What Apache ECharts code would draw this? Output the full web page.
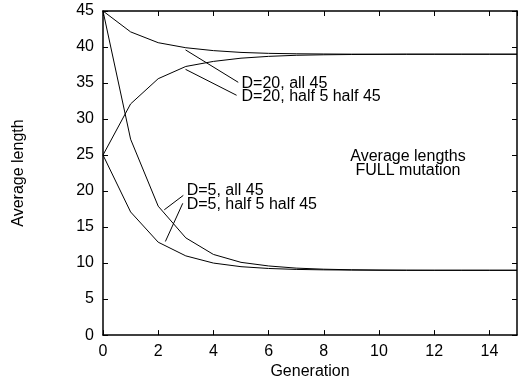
<!DOCTYPE html>
<html>
<head>
<meta charset="utf-8">
<script src="https://cdn.jsdelivr.net/npm/echarts@6/dist/echarts.min.js"></script>
</head>
<body style="margin:0">
<div id="main" style="width:524px;height:385px;"></div>
<script type="text/javascript">
    // generations 0..15
    var generations = [0,1,2,3,4,5,6,7,8,9,10,11,12,13,14,15];
    // D=20, all 45
    var d20all45 = [45,42.1,40.6,39.9,39.5,39.25,39.12,39.06,39.03,39.01,39,39,39,39,39,39];
    // D=20, half 5 half 45
    var d20half = [25,32.1,35.6,37.3,38.0,38.45,38.7,38.85,38.92,38.96,38.98,39,39,39,39,39];
    // D=5, all 45
    var d5all45 = [45,27.2,17.9,13.5,11.2,10.1,9.6,9.3,9.15,9.07,9.03,9.01,9,9,9,9];
    // D=5, half 5 half 45
    var d5half = [25,17.1,12.9,11.0,10.0,9.5,9.25,9.12,9.06,9.03,9.01,9,9,9,9,9];

    // leader lines [from, to] in data coords
    var leaders = [
        [[2.99,39.6],[4.90,35.1]],
        [[2.99,36.9],[4.84,33.3]],
        [[2.22,17.4],[2.91,19.4]],
        [[2.26,13.0],[2.89,18.3]]
    ];
    var labelTexts = ['D=20, all 45','D=20, half 5 half 45','D=5, all 45','D=5, half 5 half 45'];
    var labelPos = [[5.02,34.9],[5.02,33.1],[3.03,20.0],[3.03,18.1]];
    var noteTexts = ['Average lengths','FULL mutation'];
    var notePos = [[11.05,24.8],[11.05,22.9]];

    var font = 'Liberation Sans, Arial, sans-serif';
    var myChart = echarts.init(document.getElementById('main'));

    function pairs(ys){
        return ys.map(function(y,i){ return [generations[i], y]; });
    }

    function lineSeries(name, ys){
        return {
            name: name,
            type: 'line',
            data: pairs(ys),
            symbol: 'none',
            lineStyle: {color:'#000', width:1},
            animation: false
        };
    }

    var series = [
        lineSeries('D=20, all 45', d20all45),
        lineSeries('D=20, half 5 half 45', d20half),
        lineSeries('D=5, all 45', d5all45),
        lineSeries('D=5, half 5 half 45', d5half)
    ];
    leaders.forEach(function(l){
        series.push({
            type: 'line',
            data: l,
            symbol: 'none',
            lineStyle: {color:'#000', width:1},
            animation: false
        });
    });

    var axisCommon = {
        type: 'value',
        axisLine: {show:true, onZero:false, lineStyle:{color:'#000', width:1.5}},
        axisTick: {show:true, inside:true, length:5, lineStyle:{color:'#000'}},
        splitLine: {show:false}
    };

    option = {
        backgroundColor: '#fff',
        animation: false,
        grid: {left:103, right:7, top:11, bottom:48},
        xAxis: [
            Object.assign({}, axisCommon, {
                position:'bottom', min:0, max:15, interval:2,
                axisLabel: {color:'#000', fontSize:16, fontFamily:font, margin:8, showMaxLabel:false},
                name: 'Generation', nameLocation:'middle', nameGap:27,
                nameTextStyle: {color:'#000', fontSize:16, fontFamily:font}
            }),
            Object.assign({}, axisCommon, {
                position:'top', min:0, max:15, interval:2,
                axisLabel: {show:false}
            })
        ],
        yAxis: [
            Object.assign({}, axisCommon, {
                position:'left', min:0, max:45, interval:5,
                axisLabel: {color:'#000', fontSize:16, fontFamily:font, margin:9},
                name: 'Average length', nameLocation:'middle', nameGap:76,
                nameTextStyle: {color:'#000', fontSize:16, fontFamily:font}
            }),
            Object.assign({}, axisCommon, {
                position:'right', min:0, max:45, interval:5,
                axisLabel: {show:false}
            })
        ],
        series: series
    };
    myChart.setOption(option);

    // text annotations placed through the chart's own scales
    var graphics = [];
    labelTexts.forEach(function(t,i){
        var p = myChart.convertToPixel({gridIndex:0}, labelPos[i]);
        graphics.push({
            type:'text', x:p[0], y:p[1],
            style:{text:t, fill:'#000', font:'16px ' + font, textAlign:'left', textVerticalAlign:'middle'}
        });
    });
    noteTexts.forEach(function(t,i){
        var p = myChart.convertToPixel({gridIndex:0}, notePos[i]);
        graphics.push({
            type:'text', x:p[0], y:p[1],
            style:{text:t, fill:'#000', font:'16px ' + font, textAlign:'center', textVerticalAlign:'middle'}
        });
    });
    myChart.setOption({graphic: graphics});
</script>
</body>
</html>
